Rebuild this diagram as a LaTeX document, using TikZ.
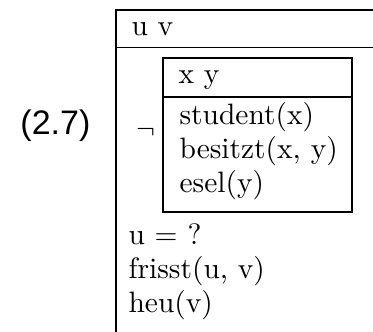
\documentclass[tikz,border=0pt]{standalone}
\usepackage{fontspec}
\newfontfamily\labelfont{Liberation Sans}
\usetikzlibrary{positioning}
\begin{document}
\begin{tikzpicture}[x=0.3528pt,y=-0.3528pt,
                    font=\fontsize{10.4}{12.5}\selectfont,
                    cond/.style={anchor=base west,inner sep=0pt},
                    drsbox/.style={draw,line width=0.45pt}]
  \useasboundingbox (0,0) rectangle (373,331);
  % the outer box runs on past the right and bottom edges
  \begin{scope}
    \clip (0,0) rectangle (373,331);
    \draw[drsbox] (116,10) rectangle (400,360);
    \draw[drsbox] (116,47.5) -- (400,47.5);
  \end{scope}
  \node[cond] (uv) at (131,36) {u v};
  \node[cond] (neg) at (136,138) {$\neg$};
  \draw[drsbox] (163,58) rectangle (352,212);
  \draw[drsbox] (163,97) -- (352,97);
  \node[cond] (xy) at (178,83) {x y};
  \node[cond] (student) at (179,124) {student(x)};
  \node[cond] (besitzt) at (179,158) {besitzt(x, y)};
  \node[cond] (esel) at (179,192) {esel(y)};
  \node[cond] (ueq) at (128,244) {u = ?};
  \node[cond] (frisst) at (128,278) {frisst(u, v)};
  \node[cond] (heu) at (128,312) {heu(v)};
  \node[anchor=base east,inner sep=0pt] (num) at (91,134)
    {\fontsize{12}{14}\labelfont (2.7)};
\end{tikzpicture}
\end{document}
